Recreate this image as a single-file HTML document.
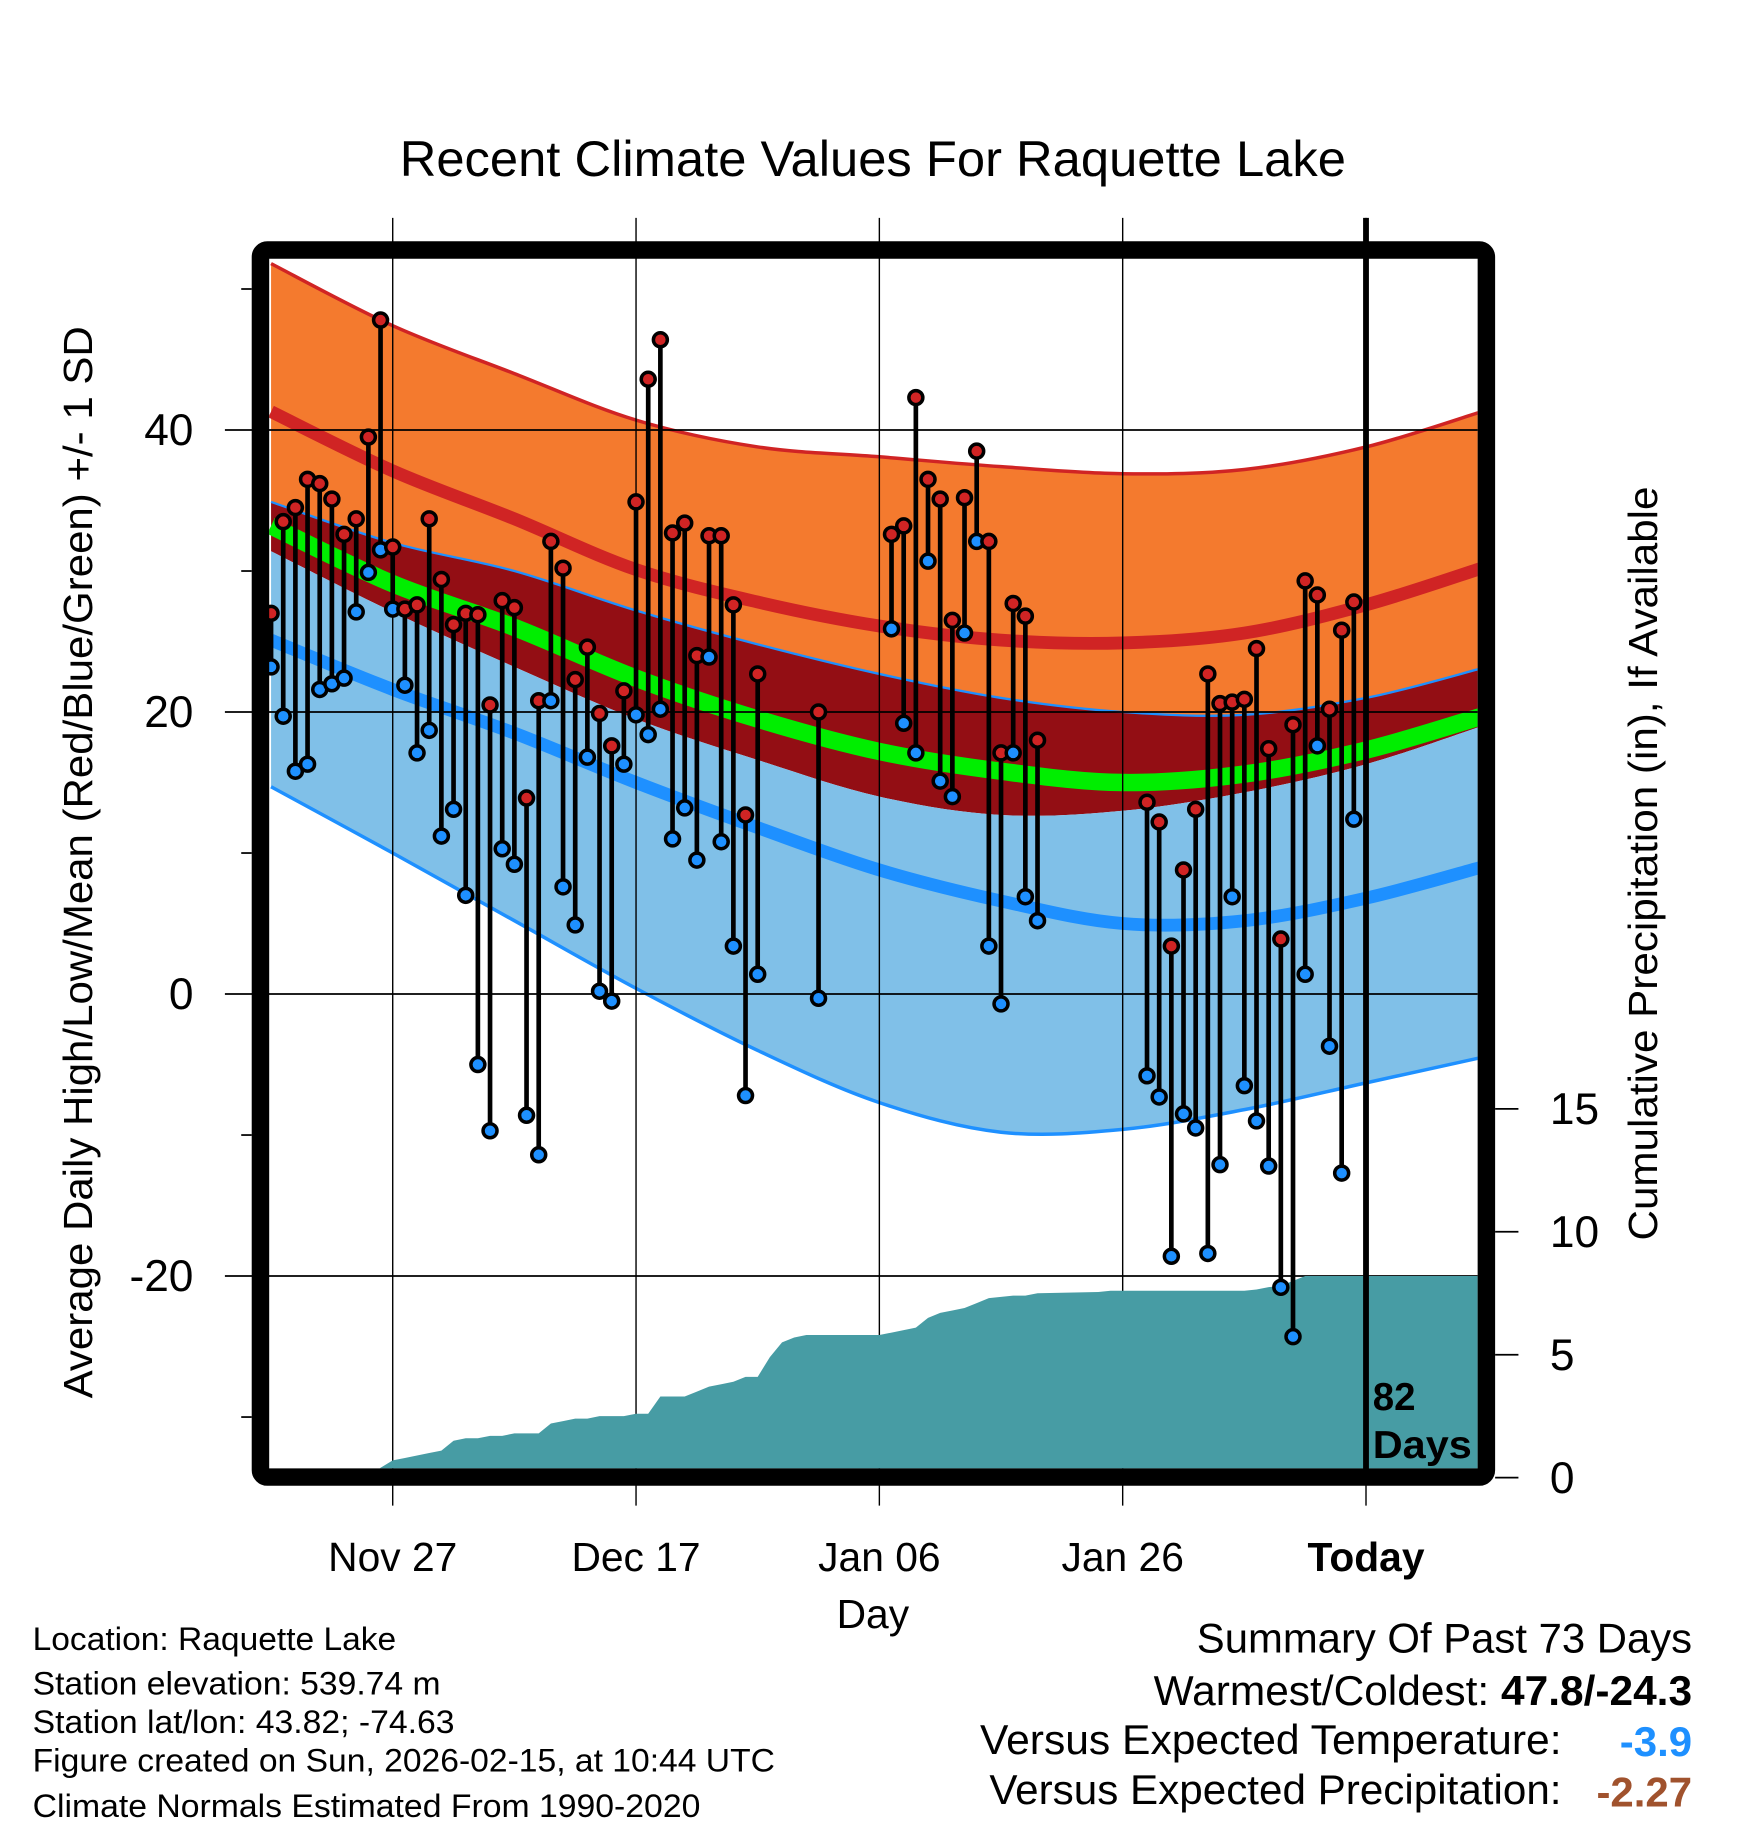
<!DOCTYPE html>
<html><head><meta charset="utf-8"><style>
html,body{margin:0;padding:0;background:#fff}
svg{display:block}
text{font-family:"Liberation Sans",Arial,sans-serif;fill:#000}
</style></head><body>
<svg id="chart" width="1748" height="1828" viewBox="0 0 1500 1568.65" xmlns="http://www.w3.org/2000/svg">
<defs><clipPath id="plotclip"><rect x="231" y="222" width="1037" height="1038"/></clipPath></defs>
<g id="bands" clip-path="url(#plotclip)"></g>
<g id="grid"></g>
<g id="precip" clip-path="url(#plotclip)"></g>
<g id="points"></g>
<g id="axes"></g>
<text x="749" y="151" font-size="43" text-anchor="middle" textLength="812" lengthAdjust="spacingAndGlyphs">Recent Climate Values For Raquette Lake</text>
<text transform="translate(79,740) rotate(-90)" font-size="35" text-anchor="middle" textLength="920" lengthAdjust="spacingAndGlyphs">Average Daily High/Low/Mean (Red/Blue/Green) +/- 1 SD</text>
<text transform="translate(1422,741) rotate(-90)" font-size="35" text-anchor="middle" textLength="647" lengthAdjust="spacingAndGlyphs">Cumulative Precipitation (in), If Available</text>
<text x="749" y="1397" font-size="35" text-anchor="middle">Day</text>
<text x="1178" y="1210" font-size="33" font-weight="bold">82</text>
<text x="1178" y="1251" font-size="33" font-weight="bold" textLength="85" lengthAdjust="spacingAndGlyphs">Days</text>
<g font-size="28">
<text x="28" y="1416" textLength="312" lengthAdjust="spacingAndGlyphs">Location: Raquette Lake</text>
<text x="28" y="1454" textLength="350" lengthAdjust="spacingAndGlyphs">Station elevation: 539.74 m</text>
<text x="28" y="1487" textLength="362" lengthAdjust="spacingAndGlyphs">Station lat/lon: 43.82; -74.63</text>
<text x="28" y="1520" textLength="637" lengthAdjust="spacingAndGlyphs">Figure created on Sun, 2026-02-15, at 10:44 UTC</text>
<text x="28" y="1559" textLength="573" lengthAdjust="spacingAndGlyphs">Climate Normals Estimated From 1990-2020</text>
</g>
<g font-size="36">
<text x="1452" y="1418" text-anchor="end" textLength="425" lengthAdjust="spacingAndGlyphs">Summary Of Past 73 Days</text>
<text x="1452" y="1463" text-anchor="end" textLength="462" lengthAdjust="spacingAndGlyphs">Warmest/Coldest: <tspan font-weight="bold">47.8/-24.3</tspan></text>
<text x="1340" y="1505" text-anchor="end" textLength="499" lengthAdjust="spacingAndGlyphs">Versus Expected Temperature:</text>
<text x="1452" y="1507" text-anchor="end" font-weight="bold" style="fill:#1e90ff">-3.9</text>
<text x="1340" y="1548" text-anchor="end" textLength="491" lengthAdjust="spacingAndGlyphs">Versus Expected Precipitation:</text>
<text x="1452" y="1550" text-anchor="end" font-weight="bold" style="fill:#a0522d">-2.27</text>
</g>
<g id="frame"></g>
</svg>
<script>
// ---- data ----
const normDays = [-10,0,10,20,30,40,50,60,70,80,89.5];
const highTop  = [51.8,47.4,44.0,40.7,38.8,38.1,37.4,36.9,37.2,38.8,41.3];
const normHigh = [41.3,37.1,33.7,30.1,27.8,26.1,25.1,24.9,25.6,27.6,30.2];
const bandB    = [34.9,32.0,30.0,27.2,24.8,22.7,21.0,20.0,19.8,21.0,23.1];
const normMean = [33.2,29.1,26.0,22.4,19.5,17.2,15.8,15.0,15.6,17.3,19.7];
const bandC    = [31.4,27.1,23.2,19.5,16.6,14.0,12.7,13.0,14.3,16.3,19.0];
const normLow  = [25.1,21.6,18.5,15.0,11.8,8.8,6.6,5.0,5.2,6.8,9.0];
const lowBot   = [14.7,10.0,5.2,0.4,-4.0,-7.7,-9.8,-9.6,-8.2,-6.3,-4.5];

const obsDays = [-10,-9,-8,-7,-6,-5,-4,-3,-2,-1,0,1,2,3,4,5,6,7,8,9,10,11,12,13,14,15,16,17,18,19,20,21,22,23,24,25,26,27,28,29,30,35,41,42,43,44,45,46,47,48,49,50,51,52,53,62,63,64,65,66,67,68,69,70,71,72,73,74,75,76,77,78,79];
const highs = [27.0,33.5,34.5,36.5,36.2,35.1,32.6,33.7,39.5,47.8,31.7,27.3,27.6,33.7,29.4,26.2,27.0,26.9,20.5,27.9,27.4,13.9,20.8,32.1,30.2,22.3,24.6,19.9,17.6,21.5,34.9,43.6,46.4,32.7,33.4,24.0,32.5,32.5,27.6,12.7,22.7,20.0,32.6,33.2,42.3,36.5,35.1,26.5,35.2,38.5,32.1,17.1,27.7,26.8,18.0,13.6,12.2,3.4,8.8,13.1,22.7,20.6,20.7,20.9,24.5,17.4,3.9,19.1,29.3,28.3,20.2,25.8,27.8];
const lows  = [23.2,19.7,15.8,16.3,21.6,22.0,22.4,27.1,29.9,31.5,27.3,21.9,17.1,18.7,11.2,13.1,7.0,-5.0,-9.7,10.3,9.2,-8.6,-11.4,20.8,7.6,4.9,16.8,0.2,-0.5,16.3,19.8,18.4,20.2,11.0,13.2,9.5,23.9,10.8,3.4,-7.2,1.4,-0.3,25.9,19.2,17.1,30.7,15.1,14.0,25.6,32.1,3.4,-0.7,17.1,6.9,5.2,-5.8,-7.3,-18.6,-8.5,-9.5,-18.4,-12.1,6.9,-6.5,-9.0,-12.2,-20.8,-24.3,1.4,17.6,-3.7,-12.7,12.4];

const precipDays = [-2,-1,0,1,2,3,4,5,6,7,8,9,10,11,12,13,14,15,16,17,18,19,20,21,22,23,24,25,26,27,28,29,30,31,32,33,34,40,41,42,43,44,45,46,47,48,49,50,51,52,53,58,59,70,71,72,73,74,75,80,90];
const precipCum  = [0,0.4,0.7,0.8,0.9,1.0,1.1,1.5,1.6,1.6,1.7,1.7,1.8,1.8,1.8,2.2,2.3,2.4,2.4,2.5,2.5,2.5,2.6,2.6,3.3,3.3,3.3,3.5,3.7,3.8,3.9,4.1,4.1,4.9,5.5,5.7,5.8,5.8,5.9,6.0,6.1,6.5,6.7,6.8,6.9,7.1,7.3,7.35,7.4,7.4,7.5,7.55,7.6,7.6,7.65,7.75,7.8,8.0,8.2,8.2,8.2];

const xTickDays = [0,20,40,60,80];
const xTickLabels = ["Nov 27","Dec 17","Jan 06","Jan 26","Today"];
const yTicks = [40,20,0,-20];
const yMinor = [50,30,10,-10,-30];
const pTicks = [0,5,10,15];
const todayDay = 80;

// ---- scales ----
const NS="http://www.w3.org/2000/svg";
const X = d => 337 + d*10.44;
const Y = t => 853 - t*12.1;
const P = p => 1268 - p*21.1;
function mk(tag, attrs, parent){const e=document.createElementNS(NS,tag);for(const k in attrs)e.setAttribute(k,attrs[k]);parent.appendChild(e);return e;}
function curve(arr){return normDays.map((d,i)=>[X(d),Y(arr[i])]);}
function smoothPath(pts){
  let s="M"+pts[0][0]+","+pts[0][1];
  for(let i=0;i<pts.length-1;i++){
    const p0=pts[Math.max(0,i-1)],p1=pts[i],p2=pts[i+1],p3=pts[Math.min(pts.length-1,i+2)];
    const c1=[p1[0]+(p2[0]-p0[0])/6,p1[1]+(p2[1]-p0[1])/6];
    const c2=[p2[0]-(p3[0]-p1[0])/6,p2[1]-(p3[1]-p1[1])/6];
    s+=" C"+c1+" "+c2+" "+p2;
  }
  return s;
}
function revPath(pts){const r=pts.slice().reverse();return smoothPath(r).replace(/^M/,"L");}
function bandPath(a,b){return smoothPath(curve(a))+" "+revPath(curve(b))+" Z";}

const bands=document.getElementById("bands");
let e;
e=mk("path",{d:bandPath(highTop,bandB),fill:"#f47a2e"},bands);


e=mk("path",{d:bandPath(bandB,bandC),fill:"#930e14"},bands);


e=mk("path",{d:bandPath(bandC,lowBot),fill:"#80c0e8"},bands);


e=mk("path",{d:smoothPath(curve(highTop)),fill:"none",stroke:"#d02424","stroke-width":3},bands);


e=mk("path",{d:smoothPath(curve(normHigh)),fill:"none",stroke:"#d02424","stroke-width":11},bands);


e=mk("path",{d:smoothPath(curve(bandB)),fill:"none",stroke:"#1e90ff","stroke-width":2},bands);


e=mk("path",{d:smoothPath(curve(normMean)),fill:"none",stroke:"#00ee00","stroke-width":15},bands);


e=mk("path",{d:smoothPath(curve(normLow)),fill:"none",stroke:"#1e90ff","stroke-width":11},bands);


e=mk("path",{d:smoothPath(curve(lowBot)),fill:"none",stroke:"#1e90ff","stroke-width":3},bands);



// grid
const grid=document.getElementById("grid");
yTicks.forEach(t=>{
  e=mk("line",{x1:193,x2:1268,y1:Y(t),y2:Y(t),stroke:"#000","stroke-width":1.5},grid);
  
  
});
xTickDays.forEach(d=>{
  e=mk("line",{x1:X(d),x2:X(d),y1:187,y2:1292,stroke:"#000","stroke-width":1.2},grid);
  
  
});

// precip
const prec=document.getElementById("precip");
let pd="M"+X(precipDays[0])+","+P(0);
precipDays.forEach((d,i)=>{pd+=" L"+X(d)+","+P(precipCum[i]);});
pd+=" L"+X(precipDays[precipDays.length-1])+","+P(0)+" Z";
e=mk("path",{d:pd,fill:"#479ca4"},prec);



// points
const pts=document.getElementById("points");
obsDays.forEach((d,i)=>{
  const x=X(d);
  e=mk("line",{x1:x,x2:x,y1:Y(highs[i]),y2:Y(lows[i]),stroke:"#000","stroke-width":4},pts);
  
  
});
obsDays.forEach((d,i)=>{
  const x=X(d);
  e=mk("circle",{cx:x,cy:Y(highs[i]),r:6,fill:"#d02424",stroke:"#000","stroke-width":3},pts);
  
  
  e=mk("circle",{cx:x,cy:Y(lows[i]),r:6,fill:"#1e90ff",stroke:"#000","stroke-width":3},pts);
  
  
});

// axes
const ax=document.getElementById("axes");
e=mk("line",{x1:X(todayDay),x2:X(todayDay),y1:187,y2:1262,stroke:"#000","stroke-width":5},ax);


yTicks.forEach(t=>{
  e=mk("text",{x:166,y:Y(t)+13,"font-size":38,"text-anchor":"end"},ax);
  e.textContent=String(t);
  
  
});
yMinor.forEach(t=>{
  e=mk("line",{x1:207,x2:216,y1:Y(t),y2:Y(t),stroke:"#000","stroke-width":1.5},ax);
  
  
});
xTickDays.forEach((d,i)=>{
  e=mk("text",{x:X(d),y:1348,"font-size":35,"text-anchor":"middle"},ax);
  if(xTickLabels[i]==="Today")e.setAttribute("font-weight","bold");
  e.textContent=xTickLabels[i];
  
  
});
pTicks.forEach(p=>{
  e=mk("line",{x1:1283,x2:1303,y1:P(p),y2:P(p),stroke:"#000","stroke-width":1.5},ax);
  
  
  e=mk("text",{x:1330,y:P(p)+13,"font-size":38},ax);
  e.textContent=String(p);
  
  
});

// frame
const fr=document.getElementById("frame");
e=mk("rect",{x:223.5,y:214.5,width:1052,height:1053,rx:6,fill:"none",stroke:"#000","stroke-width":15},fr);


</script>
</body></html>
